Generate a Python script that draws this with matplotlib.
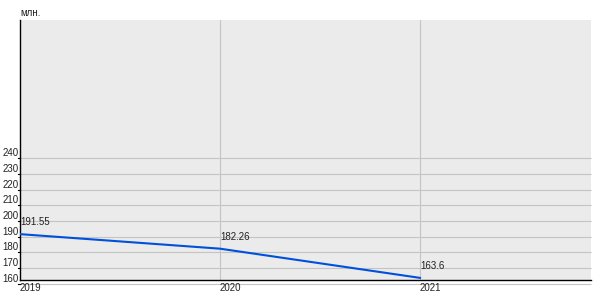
import matplotlib
matplotlib.use("Agg")
import matplotlib.pyplot as plt

years = [2019, 2020, 2021]
values = [191.55, 182.26, 163.6]
value_labels = ["191.55", "182.26", "163.6"]
y_ticks = [160, 170, 180, 190, 200, 210, 220, 230, 240]
unit = "млн."

plt.rcParams['font.family'] = ['Liberation Sans', 'DejaVu Sans']

fig = plt.figure(figsize=(6, 3), dpi=100)
ax = fig.add_axes([20/600, 20/300, 571/600, 260/300])
ax.set_facecolor('#ebebeb')

ax.set_xlim(2019, 2021.855)
ax.set_ylim(162.24, 328.4)

# horizontal grid only for the tick range (160 sits just under the axis line)
ax.hlines(y_ticks, 2019, 2021.855, colors='#c4c4c4', linewidth=0.8, clip_on=False, zorder=1)
for t in y_ticks:
    ax.text(-0.002, t, str(t), transform=ax.get_yaxis_transform(), ha='right', va='bottom',
            fontsize=7, color='#222222')
    ax.plot([-0.004, 0], [t, t], transform=ax.get_yaxis_transform(), color='black',
            linewidth=0.8, clip_on=False)
ax.set_yticks([])

ax.set_xticks(years[1:])
ax.set_xticklabels([])
ax.tick_params(axis='x', length=0)
ax.grid(axis='x', color='#c4c4c4', linewidth=0.8)
ax.set_axisbelow(True)
for y in years:
    ax.text(y, -0.012, str(y), transform=ax.get_xaxis_transform(), ha='left', va='top',
            fontsize=7, color='#222222')

ax.plot(years, values, color='#0050dc', linewidth=1.5, zorder=3)
for x, v, s in zip(years, values, value_labels):
    ax.annotate(s, (x, v), xytext=(0, 5), textcoords='offset points', ha='left', va='bottom',
                fontsize=7, color='#222222', zorder=4)

for side in ['top', 'right']:
    ax.spines[side].set_visible(False)
ax.spines['left'].set_color('black')
ax.spines['bottom'].set_color('black')
ax.spines['left'].set_linewidth(1)
ax.spines['bottom'].set_linewidth(1)

fig.text(20/600, 1 - 13/300, unit, ha='left', va='center', fontsize=7, color='#222222')

fig.savefig("out.png", dpi=100, facecolor='white')
